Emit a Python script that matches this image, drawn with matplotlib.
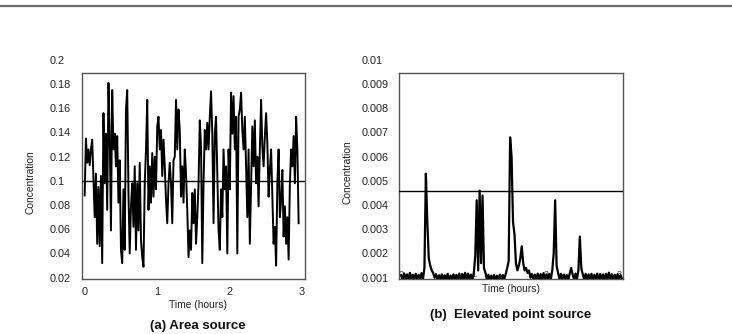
import numpy as np
import matplotlib
matplotlib.use("Agg")
import matplotlib.pyplot as plt
from matplotlib import transforms
from matplotlib.lines import Line2D

plt.rcParams['font.family'] = ['Liberation Sans', 'DejaVu Sans']

# ---------------- data ----------------
# (a) Area source: concentration, equally spaced in time
area_end_hours = 2.956
area_conc = [
    0.088, 0.135, 0.115, 0.126, 0.113, 0.126, 0.134, 0.101, 0.070, 0.106,
    0.048, 0.095, 0.046, 0.104, 0.032, 0.156, 0.098, 0.139, 0.076, 0.181,
    0.139, 0.059, 0.175, 0.126, 0.139, 0.112, 0.137, 0.082, 0.117, 0.043,
    0.032, 0.093, 0.043, 0.159, 0.175, 0.090, 0.040, 0.079, 0.098, 0.062,
    0.112, 0.043, 0.098, 0.059, 0.115, 0.051, 0.037, 0.029, 0.098, 0.126,
    0.167, 0.076, 0.112, 0.082, 0.123, 0.087, 0.120, 0.093, 0.145, 0.153,
    0.126, 0.142, 0.104, 0.134, 0.112, 0.084, 0.065, 0.098, 0.115, 0.098,
    0.065, 0.117, 0.120, 0.167, 0.126, 0.159, 0.142, 0.087, 0.112, 0.082,
    0.126, 0.106, 0.076, 0.037, 0.059, 0.043, 0.090, 0.065, 0.093, 0.048,
    0.070, 0.098, 0.150, 0.128, 0.032, 0.098, 0.142, 0.126, 0.148, 0.126,
    0.153, 0.174, 0.139, 0.065, 0.139, 0.153, 0.104, 0.059, 0.043, 0.093,
    0.070, 0.126, 0.093, 0.112, 0.040, 0.126, 0.093, 0.173, 0.139, 0.170,
    0.126, 0.153, 0.040, 0.153, 0.159, 0.173, 0.142, 0.126, 0.153, 0.112,
    0.070, 0.126, 0.048, 0.098, 0.145, 0.112, 0.150, 0.098, 0.120, 0.079,
    0.126, 0.167, 0.128, 0.112, 0.137, 0.156, 0.131, 0.087, 0.109, 0.126,
    0.087, 0.048, 0.062, 0.030, 0.098, 0.126, 0.070, 0.084, 0.109, 0.054,
    0.079, 0.048, 0.070, 0.035, 0.098, 0.126, 0.112, 0.137, 0.098, 0.153,
    0.126, 0.065,
]
area_ref = 0.1

# (b) Elevated point source: samples every 0.02 h
point_step_hours = 0.02
point_conc = [
    0.00110, 0.00092, 0.00118, 0.00095, 0.00114, 0.00093, 0.00120, 0.00094, 0.00112, 0.00096,
    0.00116, 0.00092, 0.00112, 0.00095, 0.00119, 0.00094, 0.00140, 0.00530, 0.00330, 0.00180,
    0.00150, 0.00130, 0.00120, 0.00100, 0.00115, 0.00091, 0.00110, 0.00094, 0.00114, 0.00090,
    0.00110, 0.00093, 0.00116, 0.00092, 0.00109, 0.00095, 0.00114, 0.00091, 0.00112, 0.00094,
    0.00117, 0.00092, 0.00115, 0.00095, 0.00120, 0.00093, 0.00117, 0.00094, 0.00113, 0.00092,
    0.00120, 0.00190, 0.00420, 0.00130, 0.00460, 0.00160, 0.00440, 0.00140, 0.00120, 0.00094,
    0.00112, 0.00090, 0.00109, 0.00093, 0.00111, 0.00090, 0.00108, 0.00094, 0.00113, 0.00092,
    0.00111, 0.00095, 0.00116, 0.00140, 0.00170, 0.00680, 0.00600, 0.00330, 0.00280, 0.00160,
    0.00130, 0.00150, 0.00180, 0.00230, 0.00160, 0.00130, 0.00140, 0.00120, 0.00130, 0.00100,
    0.00115, 0.00092, 0.00113, 0.00095, 0.00117, 0.00091, 0.00115, 0.00094, 0.00119, 0.00093,
    0.00114, 0.00095, 0.00116, 0.00093, 0.00130, 0.00200, 0.00420, 0.00150, 0.00120, 0.00095,
    0.00116, 0.00092, 0.00113, 0.00095, 0.00111, 0.00092, 0.00116, 0.00140, 0.00114, 0.00094,
    0.00117, 0.00093, 0.00130, 0.00270, 0.00140, 0.00114, 0.00094, 0.00116, 0.00092, 0.00114,
    0.00095, 0.00116, 0.00093, 0.00112, 0.00095, 0.00117, 0.00092, 0.00115, 0.00094, 0.00114,
    0.00091, 0.00116, 0.00095, 0.00121, 0.00093, 0.00114, 0.00095, 0.00112, 0.00092, 0.00115,
    0.00095, 0.00110, 0.00096,
]
point_ref = 0.0046

area_yticks = [0.02, 0.04, 0.06, 0.08, 0.1, 0.12, 0.14, 0.16, 0.18]
area_ytop_label = 0.2
point_yticks = [0.001, 0.002, 0.003, 0.004, 0.005, 0.006, 0.007, 0.008, 0.009]
point_ytop_label = 0.01
x_ticks = [0, 1, 2, 3]

# ---------------- figure ----------------
W, H = 732, 334
fig = plt.figure(figsize=(W / 100, H / 100), dpi=100)
fig.add_artist(Line2D([0, 1], [1 - 5.5 / H] * 2, color='#6a6a6a', lw=1.6))

TICK_FS = 7.8
LABEL_FS = 7.4
TITLE_FS = 9.5
TXT = '#222222'

def px_axes(x0, x1, ytop, ybot):
    return fig.add_axes([x0 / W, 1 - ybot / H, (x1 - x0) / W, (ybot - ytop) / H])

axA = px_axes(82, 305, 72.7, 279)
axB = px_axes(399, 622.7, 72.7, 279)

for ax in (axA, axB):
    for s in ax.spines.values():
        s.set_color('#555555')
        s.set_linewidth(1.0)
    ax.tick_params(length=0, labelsize=TICK_FS, colors=TXT)

# ---- (a) ----
tA = np.linspace(0, area_end_hours, len(area_conc))
axA.plot(tA, area_conc, color='black', lw=1.4, zorder=3)
axA.axhline(area_ref, color='black', lw=1.0, zorder=4)
axA.set_xlim(-0.037, 3.044)
axA.set_ylim(0.0189, 0.1894)
axA.set_xticks(x_ticks, [str(v) for v in x_ticks])
axA.set_yticks(area_yticks, [f"{v:g}" for v in area_yticks])
plt.setp(axA.get_yticklabels(), ha='left')
axA.tick_params(axis='y', pad=23)
axA.tick_params(axis='x', pad=6)
trA = transforms.blended_transform_factory(axA.transAxes, axA.transData)
axA.text(-32 / 223, area_ytop_label, f"{area_ytop_label:g}", transform=trA,
         ha='left', va='center_baseline', fontsize=TICK_FS, color=TXT, clip_on=False)
axA.set_ylabel('Concentration', fontsize=LABEL_FS, color=TXT)
axA.yaxis.set_label_coords(-0.208, 0.472)
axA.set_xlabel('Time (hours)', fontsize=LABEL_FS, color=TXT)
axA.xaxis.set_label_coords(0.52, -0.10)
fig.text(198 / W, 1 - 326.5 / H, '(a) Area source', ha='center', va='center',
         fontsize=TITLE_FS, fontweight='bold', color='#111111')

# ---- (b) ----
tB = np.arange(len(point_conc)) * point_step_hours
trB = transforms.blended_transform_factory(axB.transData, axB.transAxes)
for v in x_ticks:
    axB.text(v, 0.022, str(v), transform=trB, ha='center', va='center',
             fontsize=6.5, color='#444444', zorder=1)
axB.plot(tB, point_conc, color='black', lw=1.6, zorder=3)
axB.axhline(point_ref, color='black', lw=1.0, zorder=4)
axB.set_xlim(-0.03, 3.05)
axB.set_ylim(0.000946, 0.00947)
axB.set_xticks([])
axB.set_yticks(point_yticks, [f"{v:g}" for v in point_yticks])
plt.setp(axB.get_yticklabels(), ha='left')
axB.tick_params(axis='y', pad=27)
trB2 = transforms.blended_transform_factory(axB.transAxes, axB.transData)
axB.text(-37.3 / 223.7, point_ytop_label, f"{point_ytop_label:g}", transform=trB2,
         ha='left', va='center_baseline', fontsize=TICK_FS, color=TXT, clip_on=False)
axB.set_ylabel('Concentration', fontsize=LABEL_FS, color=TXT)
axB.yaxis.set_label_coords(-0.21, 0.52)
axB.set_xlabel('Time (hours)', fontsize=LABEL_FS, color=TXT)
axB.xaxis.set_label_coords(0.5, -0.025)
fig.text(510.7 / W, 1 - 315 / H, '(b)  Elevated point source', ha='center', va='center',
         fontsize=TITLE_FS, fontweight='bold', color='#111111')

fig.savefig('out.png', dpi=100)
